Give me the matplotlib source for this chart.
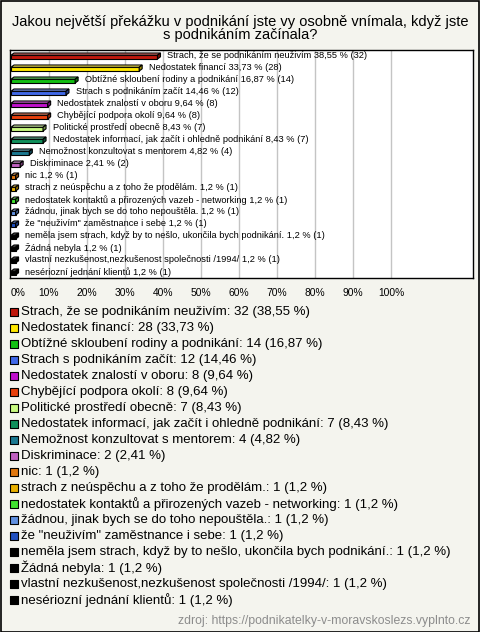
import matplotlib
matplotlib.use("Agg")
import matplotlib.pyplot as plt
from matplotlib.patches import Polygon, Rectangle
from matplotlib.transforms import ScaledTranslation
import matplotlib.colors as mcolors
import numpy as np

plt.rcParams['font.family'] = ['Liberation Sans', 'DejaVu Sans']

title_lines = ["Jakou největší překážku v podnikání jste vy osobně vnímala, když jste",
               "s podnikáním začínala?"]
categories = [
    "Strach, že se podnikáním neuživím",
    "Nedostatek financí",
    "Obtížné skloubení rodiny a podnikání",
    "Strach s podnikáním začít",
    "Nedostatek znalostí v oboru",
    "Chybějící podpora okolí",
    "Politické prostředí obecně",
    "Nedostatek informací, jak začít i ohledně podnikání",
    "Nemožnost konzultovat s mentorem",
    "Diskriminace",
    "nic",
    "strach z neúspěchu a z toho že prodělám.",
    "nedostatek kontaktů a přirozených vazeb - networking",
    "žádnou, jinak bych se do toho nepouštěla.",
    "že \"neuživím\" zaměstnance i sebe",
    "neměla jsem strach, když by to nešlo, ukončila bych podnikání.",
    "Žádná nebyla",
    "vlastní nezkušenost,nezkušenost společnosti /1994/",
    "nesériozní jednání klientů",
]
counts = [32, 28, 14, 12, 8, 8, 7, 7, 4, 2, 1, 1, 1, 1, 1, 1, 1, 1, 1]
percents = [38.55, 33.73, 16.87, 14.46, 9.64, 9.64, 8.43, 8.43, 4.82, 2.41,
            1.2, 1.2, 1.2, 1.2, 1.2, 1.2, 1.2, 1.2, 1.2]
colors = ['#c0180c', '#ffe800', '#12c012', '#4068e8', '#c010cc', '#e8400c',
          '#c8fa80', '#10905c', '#1a7890', '#c060c0', '#e07810', '#e8b000',
          '#40e030', '#6090e0', '#2050c0', '#000000', '#000000', '#000000', '#000000']
xticks = [0, 10, 20, 30, 40, 50, 60, 70, 80, 90, 100]
source = "zdroj: https://podnikatelky-v-moravskoslezs.vyplnto.cz"

BG = '#f4f4ee'
W, H = 480, 632
fig = plt.figure(figsize=(W / 100, H / 100), dpi=100, facecolor=BG)

# outer border
fig.patches.append(Rectangle((0.5 / W, 0.5 / H), 1 - 1.5 / W, 1 - 1.5 / H, transform=fig.transFigure,
                             fill=False, edgecolor='black', linewidth=1.2))

for k, line in enumerate(title_lines):
    fig.text(0.5, 1 - (22 + 13.5 * k) / H, line, ha='center', va='center', fontsize=10.5)

def fmt(p):
    return f"{p:g}".replace('.', ',')

# main axes
ax = fig.add_axes([10 / W, 1 - 278 / H, 463 / W, 228 / H])
ax.set_facecolor('white')
pxx = 3.8  # px per percent
ax.set_xlim(-1 / pxx, 463 / pxx - 1 / pxx)
ax.set_ylim(len(categories) - 0.5, -0.5)
for g in xticks[1:]:
    ax.axvline(g, color='#c4c4c4', linewidth=1, zorder=0)

dx = 3 / pxx
dy = 2.2 / 12
for i, (v, c) in enumerate(zip(percents, colors)):
    base = np.array(mcolors.to_rgb(c))
    light = base + (1 - base) * 0.35
    dark = base * 0.6
    top = i - 0.25
    ftop = top + dy
    fbot = i + 0.25
    # front face
    ax.add_patch(Rectangle((0, ftop), v, fbot - ftop, facecolor=c, edgecolor='black', linewidth=0.8, zorder=3))
    # top face
    ax.add_patch(Polygon([(0, ftop), (v, ftop), (v + dx, top), (dx, top)], closed=True,
                         facecolor=light, edgecolor='black', linewidth=0.8, zorder=3))
    # right face
    ax.add_patch(Polygon([(v, ftop), (v + dx, top), (v + dx, fbot - dy), (v, fbot)], closed=True,
                         facecolor=dark, edgecolor='black', linewidth=0.8, zorder=3))
    ax.annotate(f"{categories[i]} {fmt(v)} % ({counts[i]})", xy=(v, i), xytext=(7, 0),
                textcoords='offset points', ha='left', va='center', fontsize=6.7, zorder=4)

ax.set_yticks([])
ax.set_xticks(xticks)
ax.set_xticklabels([f"{t}%" for t in xticks], fontsize=7.4)
ax.tick_params(axis='x', length=0, pad=7)
lbl0 = ax.get_xticklabels()[0]
lbl0.set_transform(lbl0.get_transform() + ScaledTranslation(7 / 100, 0, fig.dpi_scale_trans))
for s in ax.spines.values():
    s.set_linewidth(1)
    s.set_color('black')

# legend axes
lax = fig.add_axes([0, 1 - 608 / H, 1, 304 / H])
lax.set_axis_off()
lax.set_xlim(0, W)
lax.set_ylim(len(categories) - 0.5, -0.5)
for i, c in enumerate(colors):
    lax.scatter([14], [i], marker='s', s=40, facecolor=c, edgecolor='black', linewidth=0.8)
    lax.text(21, i, f"{categories[i]}: {counts[i]} ({fmt(percents[i])} %)", ha='left', va='center',
             fontsize=9.5)

fig.text(470 / W, 1 - 621 / H, source, ha='right', va='center', fontsize=8.8, color='#8c8c8c')

fig.savefig("out.png", dpi=100, facecolor=BG)
